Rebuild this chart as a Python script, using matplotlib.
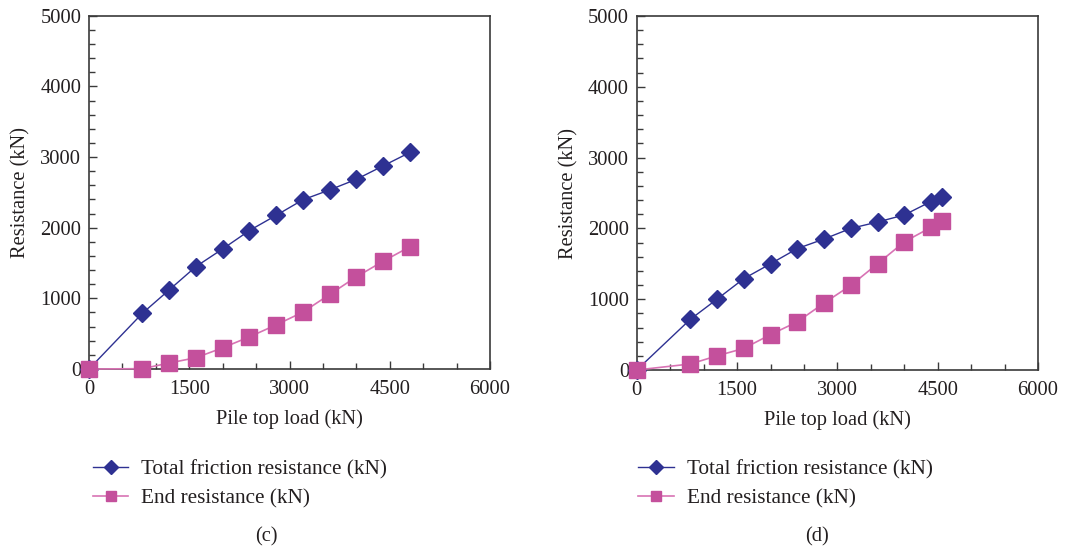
import matplotlib
matplotlib.use("Agg")
import matplotlib.pyplot as plt
from matplotlib.ticker import MultipleLocator
from matplotlib.lines import Line2D

plt.rcParams['font.family'] = ['Liberation Serif', 'DejaVu Serif']

load_c = [0, 800, 1200, 1600, 2000, 2400, 2800, 3200, 3600, 4000, 4400, 4800]
friction_c = [0, 790, 1120, 1450, 1700, 1960, 2175, 2395, 2535, 2685, 2875, 3065]
end_c = [0, 5, 85, 160, 300, 455, 625, 805, 1055, 1305, 1525, 1730]

load_d = [0, 800, 1200, 1600, 2000, 2400, 2800, 3200, 3600, 4000, 4400, 4570]
friction_d = [0, 715, 1000, 1290, 1500, 1715, 1850, 2000, 2090, 2190, 2380, 2450]
end_d = [0, 85, 200, 305, 500, 680, 945, 1195, 1500, 1810, 2015, 2100]

x_ticks = [0, 1500, 3000, 4500, 6000]
y_ticks = [0, 1000, 2000, 3000, 4000, 5000]
series_labels = ["Total friction resistance (kN)", "End resistance (kN)"]
panel_labels = ["(c)", "(d)"]

navy = "#2e3192"
pink = "#c4509c"
pink_line = "#d873b4"
axis_col = "#3a3a3a"
text_col = "#231f20"

fs = 14.8
fs_leg = 15.3

fig = plt.figure(figsize=(10.84, 5.52), dpi=100)

panels = [
    (load_c, friction_c, end_c, [0.0821, 0.3315, 0.3700, 0.6400], 0.0858, 0.246),
    (load_d, friction_d, end_d, [0.5874, 0.3297, 0.3702, 0.6413], 0.5890, 0.754),
]

for i, (xs, fr, en, rect, legx, labx) in enumerate(panels):
    ax = fig.add_axes(rect)
    ax.plot(xs, fr, color=navy, lw=1.0, marker='D', markersize=9.5,
            markerfacecolor=navy, markeredgecolor=navy, clip_on=False, zorder=3)
    ax.plot(xs, en, color=pink_line, lw=1.2, marker='s', markersize=12,
            markerfacecolor=pink, markeredgecolor=pink, clip_on=False, zorder=3)
    ax.set_xlim(0, 6000)
    ax.set_ylim(0, 5000)
    ax.set_xticks(x_ticks)
    ax.set_yticks(y_ticks)
    ax.xaxis.set_minor_locator(MultipleLocator(500))
    ax.yaxis.set_minor_locator(MultipleLocator(200))
    ax.tick_params(which='both', direction='in', top=False, right=False,
                   colors=axis_col, labelcolor=text_col, labelsize=fs)
    ax.tick_params(which='major', length=6, width=1.0)
    ax.tick_params(which='minor', length=4, width=1.0)
    ax.tick_params(axis='x', which='major', pad=8)
    ax.tick_params(axis='y', which='major', pad=5.5)
    for s in ax.spines.values():
        s.set_color(axis_col)
        s.set_linewidth(1.2)
    ax.set_xlabel("Pile top load (kN)", fontsize=fs, color=text_col, labelpad=7)
    ax.set_ylabel("Resistance (kN)", fontsize=fs, color=text_col, labelpad=7)

    handles = [
        Line2D([], [], color=navy, lw=1.0, marker='D', markersize=7,
               markerfacecolor=navy, markeredgecolor=navy),
        Line2D([], [], color=pink_line, lw=1.2, marker='s', markersize=7,
               markerfacecolor=pink, markeredgecolor=pink),
    ]
    fig.legend(handles, series_labels, loc='upper left',
               bbox_to_anchor=(legx, 0.168), bbox_transform=fig.transFigure,
               frameon=False, fontsize=fs_leg, handlelength=1.65, handletextpad=0.62,
               labelspacing=0.45, borderaxespad=0, borderpad=0,
               labelcolor=text_col)
    fig.text(labx, 0.027, panel_labels[i], ha='center', va='center',
             fontsize=fs, color=text_col)

fig.savefig("out.png", dpi=100)
